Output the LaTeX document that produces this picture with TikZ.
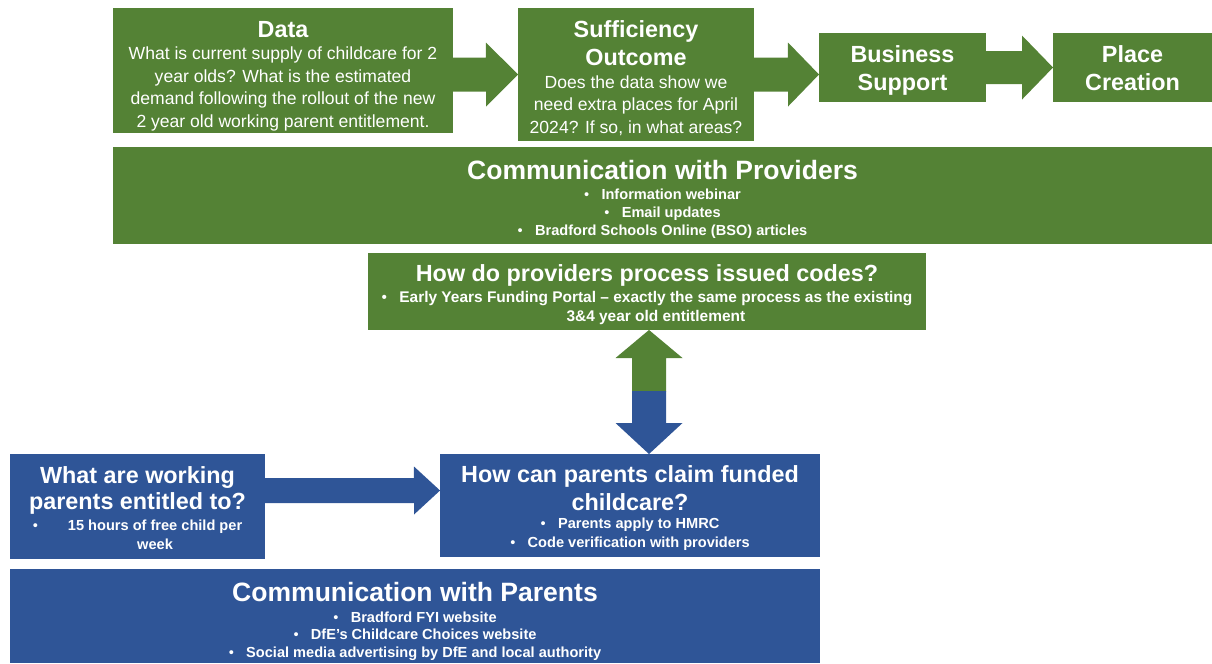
\documentclass[tikz,border=0pt]{standalone}
\usepackage{fontspec}
\setmainfont{Liberation Sans}
\usetikzlibrary{calc}
\definecolor{grn}{HTML}{548235}
\definecolor{blu}{HTML}{2F5597}
\newcommand\hdfont{\fontsize{13.3}{16}\selectfont\bfseries}
\newcommand\hdbigfont{\fontsize{15.1}{18}\selectfont\bfseries}
\newcommand\txtfont{\fontsize{10}{12.8}\selectfont}
\newcommand\itmfont{\fontsize{8.3}{10.2}\selectfont\bfseries}
\newcommand\itm{{\mdseries •}\hspace{7pt}}
\newcommand\lift[1]{\rule{0pt}{#1}}
\begin{document}
\begin{tikzpicture}[x=0.02cm,y=-0.02cm,
  box/.style={inner sep=0pt,outer sep=0pt,text=white,align=center},
  gbox/.style={box,fill=grn},
  bbox/.style={box,fill=blu}]
 \useasboundingbox (0,0) rectangle (1212,663);
 % top row
 \node[gbox,font=\txtfont,minimum width=6.8cm,minimum height=2.5cm] (data) at (283,70.5)
  {{\hdfont\lift{15.4pt}Data}\\ What is current supply of childcare for 2\\ year olds? What is the estimated\\
   demand following the rollout of the new\\ 2 year old working parent entitlement.};
 \node[gbox,font=\txtfont,minimum width=4.72cm,minimum height=2.66cm] (suff) at (636,74.5)
  {{\hdfont\lift{13.7pt}Sufficiency}\\[3.2pt] {\hdfont Outcome}\\ Does the data show we\\
   need extra places for April\\ 2024? If so, in what areas?};
 \node[gbox,font=\hdfont,minimum width=3.34cm,minimum height=1.38cm] (bus) at (902.5,67.5)
  {\lift{13pt}Business\\ Support};
 \node[gbox,font=\hdfont,minimum width=3.18cm,minimum height=1.38cm] (place) at (1132.5,67.5)
  {\lift{10.8pt}Place\\ Creation};
 \node[gbox,font=\itmfont,minimum width=21.98cm,minimum height=1.94cm] (commprov) at (662.5,195.5)
  {{\hdbigfont\lift{15.6pt}Communication with Providers}\\[1pt] \itm Information webinar\\
   \itm Email updates\\ \itm Bradford Schools Online (BSO) articles};
 \node[gbox,font=\fontsize{8.8}{10.8}\selectfont\bfseries,minimum width=11.16cm,minimum height=1.54cm] (proc) at (647,291.5)
  {{\hdfont\lift{13.1pt}How do providers process issued codes?}\\[1pt]
   \itm Early Years Funding Portal – exactly the same process as the existing\\
   \phantom{\itm}3\&4 year old entitlement};
 % bottom part
 \node[bbox,font=\itmfont,minimum width=5.1cm,minimum height=2.1cm] (work) at (137.5,506.5)
  {{\hdfont\lift{11.2pt}What are working}\\[1.6pt] {\hdfont parents entitled to?}\\[1.7pt]
   \makebox[20pt][l]{\mdseries •}15 hours of free child per\\[0.6pt] \hspace*{20pt}week};
 \node[bbox,font=\itmfont,minimum width=7.6cm,minimum height=2.06cm] (claim) at (630,505.5)
  {{\hdfont\lift{12.5pt}How can parents claim funded}\\[2.2pt] {\hdfont childcare?}\\
   \itm Parents apply to HMRC\\[0.6pt] \itm Code verification with providers};
 \node[bbox,font=\itmfont,minimum width=16.2cm,minimum height=1.88cm] (commpar) at (415,616)
  {{\hdbigfont\lift{16.7pt}Communication with Parents}\\[1.8pt] \itm Bradford FYI website\\[-0.2pt]
   \itm DfE’s Childcare Choices website\\[-0.2pt] \itm Social media advertising by DfE and local authority};
 % block arrows
 \fill[grn] (data.east |- suff.west) ++(0,-17) -- ++(33,0) -- ++(0,-15) -- (suff.west)
   -- ++(-32,32) -- ++(0,-15) -- ++(-33,0) -- cycle;
 \fill[grn] (suff.east) ++(0,-17) -- ++(34,0) -- ++(0,-15) -- (suff.east -| bus.west)
   -- ++(-31,32) -- ++(0,-15) -- ++(-34,0) -- cycle;
 \fill[grn] (bus.east) ++(0,-16.5) -- ++(36,0) -- ++(0,-15.5) -- (place.west)
   -- ++(-31,32) -- ++(0,-15.5) -- ++(-36,0) -- cycle;
 \coordinate (up) at ($(proc.south)+(2,0)$);
 \coordinate (dn) at (up |- claim.north);
 \fill[grn] (up) -- ++(33.5,28) -- ++(-16.5,0) -- ++(0,33.5) -- ++(-34,0) -- ++(0,-33.5)
   -- ++(-16.5,0) -- cycle;
 \fill[blu] (dn) -- ++(33.5,-31) -- ++(-16.5,0) -- ++(0,-32) -- ++(-34,0) -- ++(0,32)
   -- ++(-16.5,0) -- cycle;
 \coordinate (wtip) at ($(claim.west)+(0,-15)$);
 \fill[blu] (work.east |- wtip) ++(0,-12.5) -- ++(149,0) -- ++(0,-11.5) -- (wtip)
   -- ++(-26,24) -- ++(0,-11.5) -- ++(-149,0) -- cycle;
\end{tikzpicture}
\end{document}
